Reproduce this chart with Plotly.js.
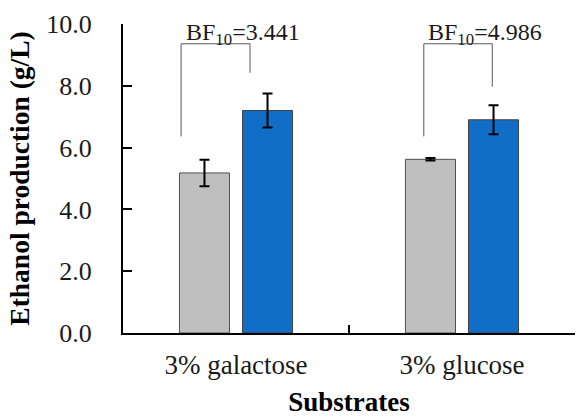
<!DOCTYPE html>
<html>
<head>
<meta charset="utf-8">
<script src="https://cdn.plot.ly/plotly-3.0.1.min.js"></script>
<style>html,body{margin:0;padding:0;background:#fff;}#chart{width:581px;height:417px;}</style>
</head>
<body>
<div id="chart"></div>
<script>
const categories = ['3% galactose', '3% glucose'];
const controlValues = [5.18, 5.62];
const controlErrors = [0.43, 0.04];
const treatedValues = [7.20, 6.90];
const treatedErrors = [0.55, 0.47];
const bfValues = ['3.441', '4.986'];
// bracket geometry (category offsets and heights in data units)
const bracketLeftX = [-0.243, -0.169];
const bracketRightX = [0.062, 0.134];
const bracketTopY = [9.36, 9.36];
const bracketLeftY = [6.36, 6.36];
const bracketRightY = [8.42, 7.97];
const labelOffsetX = [0.033, 0.10];

const FONT = '"Liberation Serif", "Times New Roman", serif';

const traces = [
  {
    type: 'bar', x: categories, y: controlValues, name: 'Control',
    marker: {color: '#BFBFBF', line: {color: '#505050', width: 1}},
    error_y: {type: 'data', array: controlErrors, visible: true, color: '#000', thickness: 2, width: 5}
  },
  {
    type: 'bar', x: categories, y: treatedValues, name: 'Treated',
    marker: {color: '#116EC6', line: {color: '#404040', width: 1}},
    error_y: {type: 'data', array: treatedErrors, visible: true, color: '#000', thickness: 2, width: 5}
  }
];

const shapes = [];
const annotations = [];
categories.forEach((c, i) => {
  const xl = i + bracketLeftX[i], xr = i + bracketRightX[i];
  shapes.push({
    type: 'path', xref: 'x', yref: 'y',
    path: `M ${xl},${bracketLeftY[i]} L ${xl},${bracketTopY[i]} L ${xr},${bracketTopY[i]} L ${xr},${bracketRightY[i]}`,
    line: {color: '#595959', width: 1}
  });
  annotations.push({
    xref: 'x', yref: 'y', x: i + labelOffsetX[i], y: 9.69,
    text: 'BF<sub>10</sub>=' + bfValues[i], showarrow: false,
    font: {family: FONT, size: 24, color: '#1a1a1a'}, xanchor: 'center', yanchor: 'middle'
  });
});

const layout = {
  width: 581, height: 417,
  margin: {l: 123, r: 6, t: 24, b: 84, pad: 0},
  paper_bgcolor: '#fff', plot_bgcolor: '#fff',
  showlegend: false,
  barmode: 'group', bargap: 0.442, bargroupgap: 0.206,
  font: {family: FONT, color: '#1a1a1a'},
  xaxis: {
    type: 'category', tickson: 'boundaries', ticks: 'inside', ticklen: 8, tickwidth: 2, tickcolor: '#000',
    showline: true, linecolor: '#000', linewidth: 2, showgrid: false, zeroline: false,
    tickfont: {family: FONT, size: 27, color: '#1a1a1a'}, ticklabelstandoff: 7,
    title: {text: '<b>Substrates</b>', font: {family: FONT, size: 27, color: '#000'}, standoff: 14},
    automargin: false
  },
  yaxis: {
    range: [0, 10], tickvals: [0, 2, 4, 6, 8, 10], ticktext: ['0.0', '2.0', '4.0', '6.0', '8.0', '10.0'],
    ticks: 'inside', ticklen: 9, tickwidth: 2, tickcolor: '#000',
    showline: true, linecolor: '#000', linewidth: 2, showgrid: false, zeroline: false,
    tickfont: {family: FONT, size: 26, color: '#1a1a1a'}, ticklabelstandoff: 24,
    title: {text: '<b>Ethanol production (g/L)</b>', font: {family: FONT, size: 27.5, color: '#000'}, standoff: 9},
    automargin: false
  },
  shapes: shapes,
  annotations: annotations
};

Plotly.newPlot('chart', traces, layout, {displayModeBar: false, staticPlot: true});
</script>
</body>
</html>
